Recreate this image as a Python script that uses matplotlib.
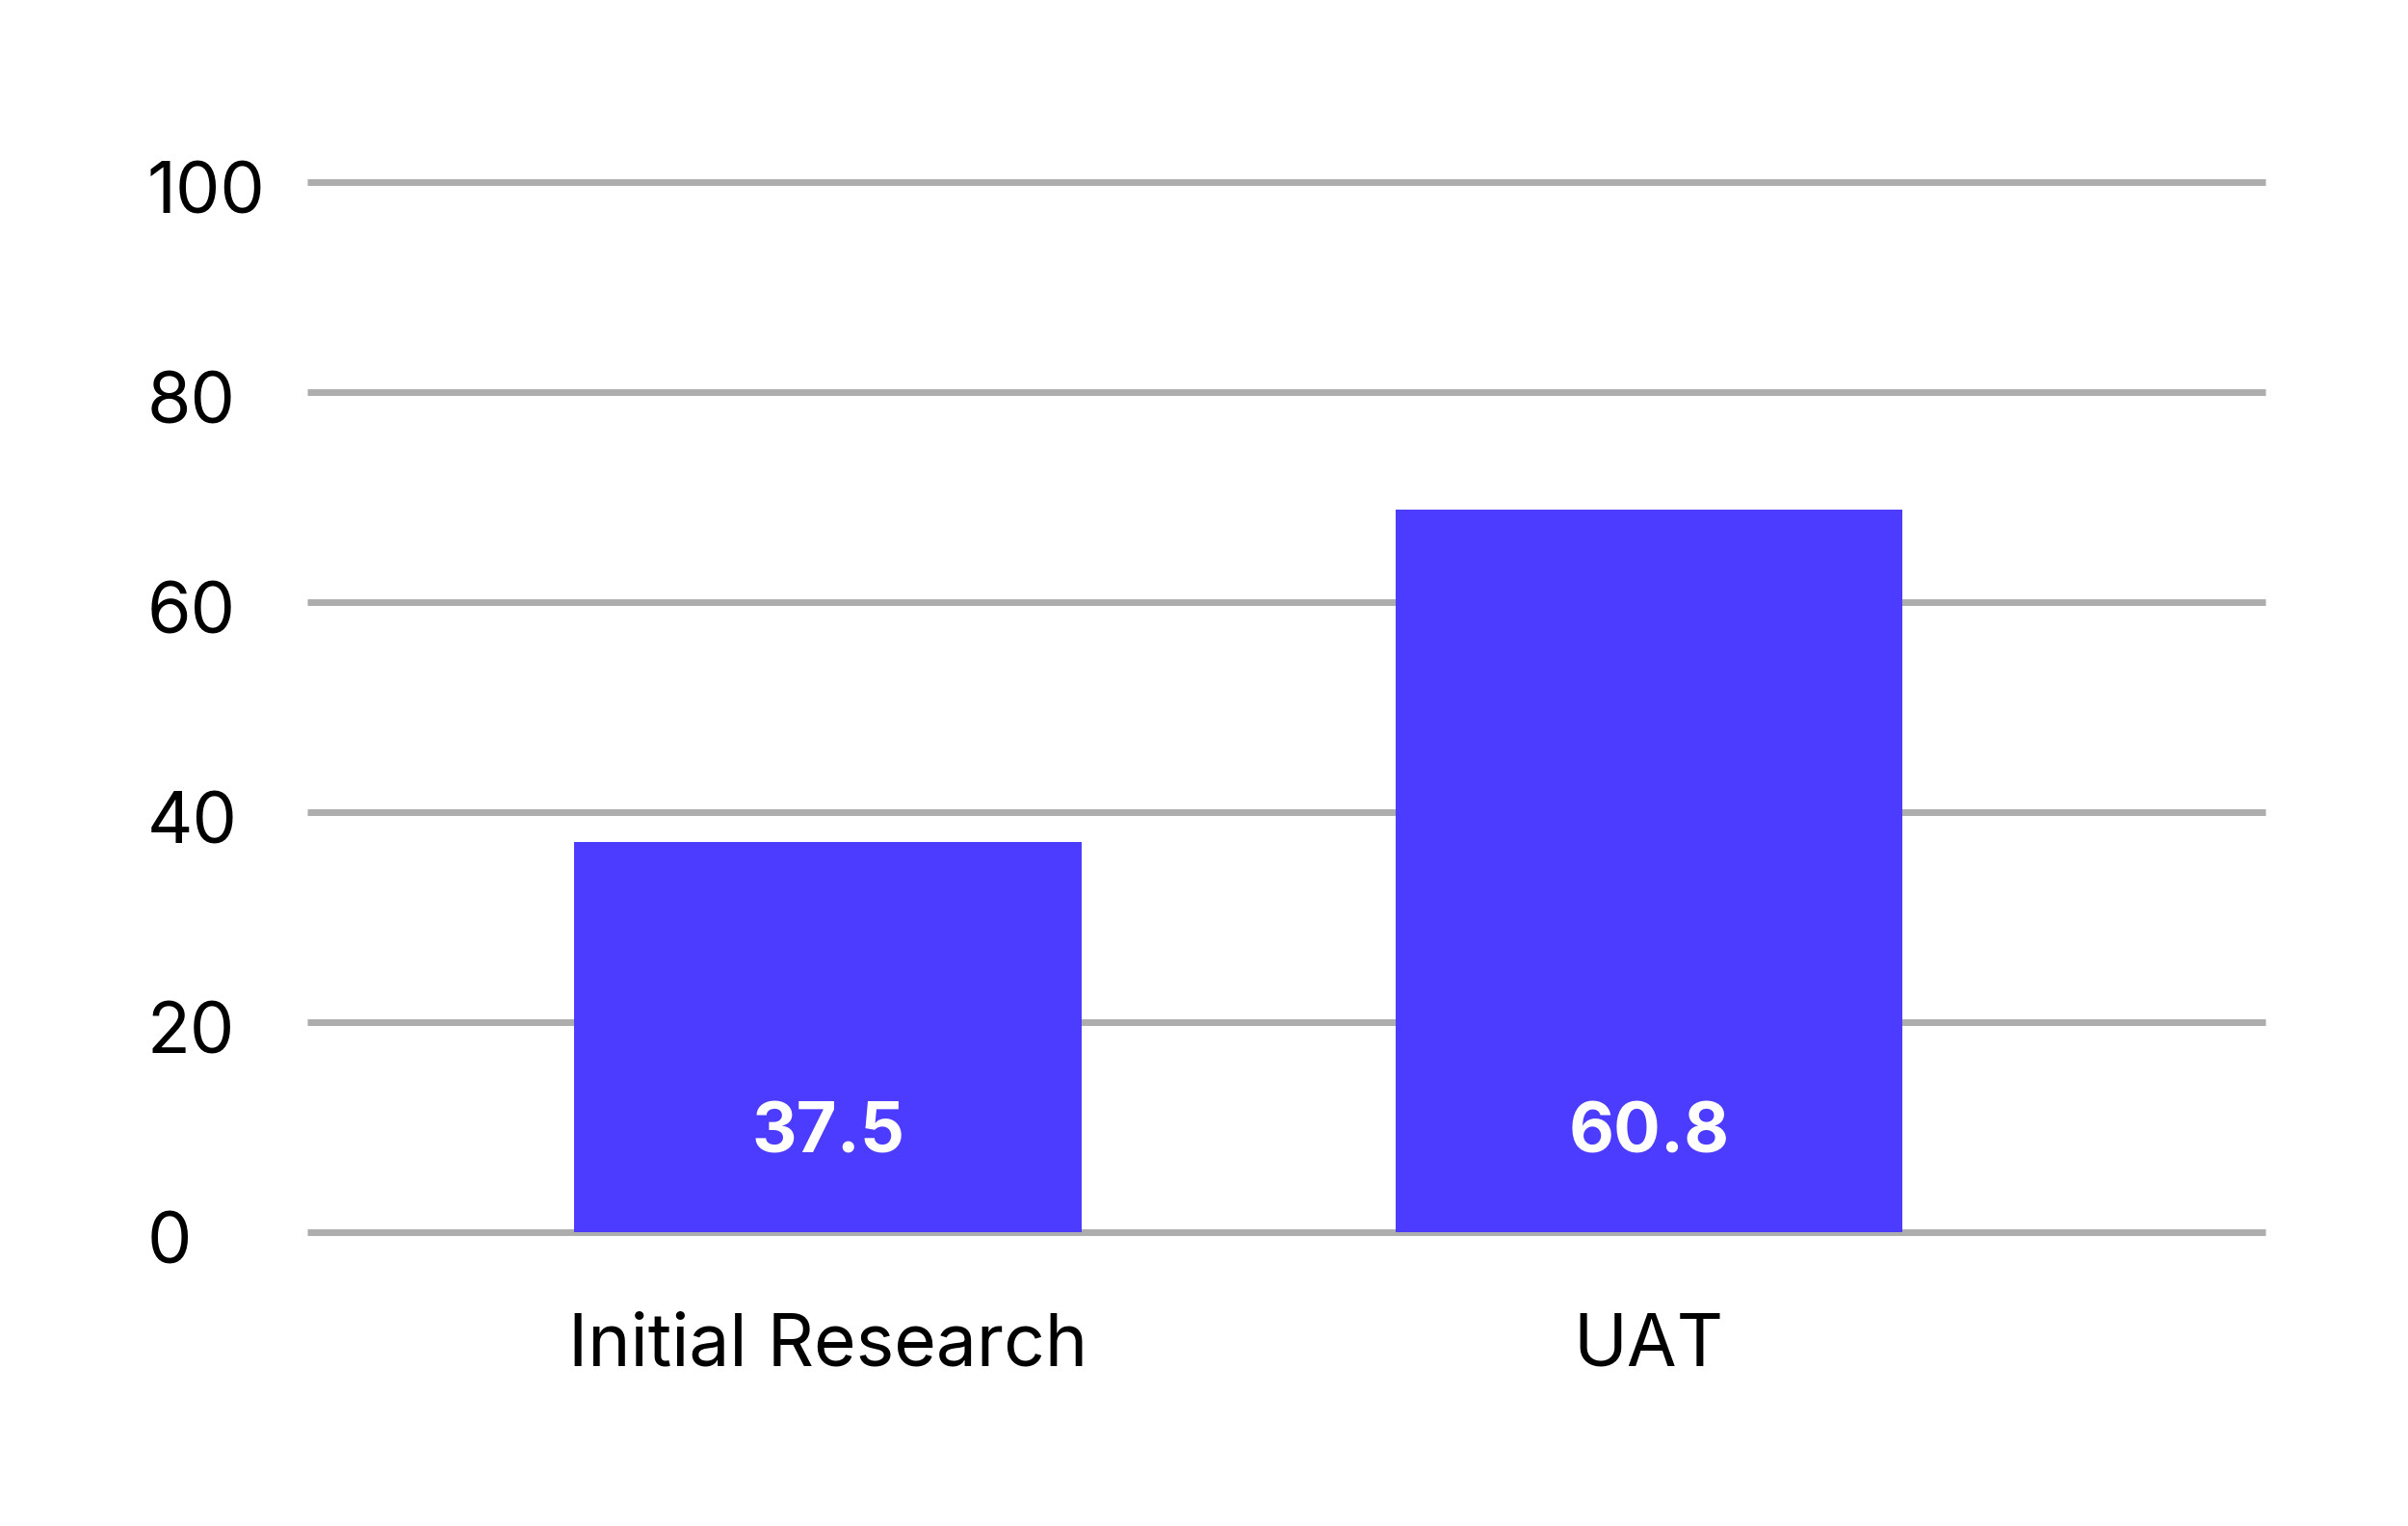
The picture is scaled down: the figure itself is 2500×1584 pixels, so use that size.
import matplotlib
matplotlib.use("Agg")
import matplotlib.pyplot as plt
import matplotlib.transforms as mtransforms

categories = ["Initial Research", "UAT"]
bar_values = [37.1, 68.8]
value_labels = ["37.5", "60.8"]
y_ticks = [0, 20, 40, 60, 80, 100]
y_tick_labels = ["0", "20", "40", "60", "80", "100"]

plt.rcParams['font.family'] = ['Inter', 'DejaVu Sans']

DPI = 200
fig = plt.figure(figsize=(2500 / DPI, 1584 / DPI), dpi=DPI)
fig.patch.set_facecolor("white")
ax = fig.add_axes([0.1277, 0.1928, 0.9408 - 0.1277, 0.8809 - 0.1928])

x = list(range(len(categories)))
bars = ax.bar(x, bar_values, width=0.618, color="#4B3CFF", zorder=3)

for yv in y_ticks:
    ax.axhline(yv, color="#ADADAD", linewidth=2.5, zorder=1, clip_on=False,
               solid_capstyle="butt")

ax.set_xlim(-0.634, 1.751)
ax.set_ylim(0, 100)

for spine in ax.spines.values():
    spine.set_visible(False)

ax.set_yticks(y_ticks)
ax.set_yticklabels(y_tick_labels, fontsize=26.5, color="black", ha="left",
                   va="center_baseline")
ax.set_xticks(x)
ax.set_xticklabels(categories, fontsize=27, color="black", va="center_baseline")
ax.tick_params(axis="y", length=0, pad=60)
ax.tick_params(axis="x", length=0, pad=40)

shift = mtransforms.ScaledTranslation(0, -2.0 / 72, fig.dpi_scale_trans)
for lbl in ax.get_yticklabels():
    lbl.set_transform(lbl.get_transform() + shift)

for xi, lab in zip(x, value_labels):
    ax.annotate(lab, xy=(xi, 0), xytext=(0, 39), textcoords="offset points",
                ha="center", va="center_baseline", fontsize=26, fontweight="bold",
                color="white", zorder=4)

fig.savefig("out.png", dpi=DPI, facecolor="white")
